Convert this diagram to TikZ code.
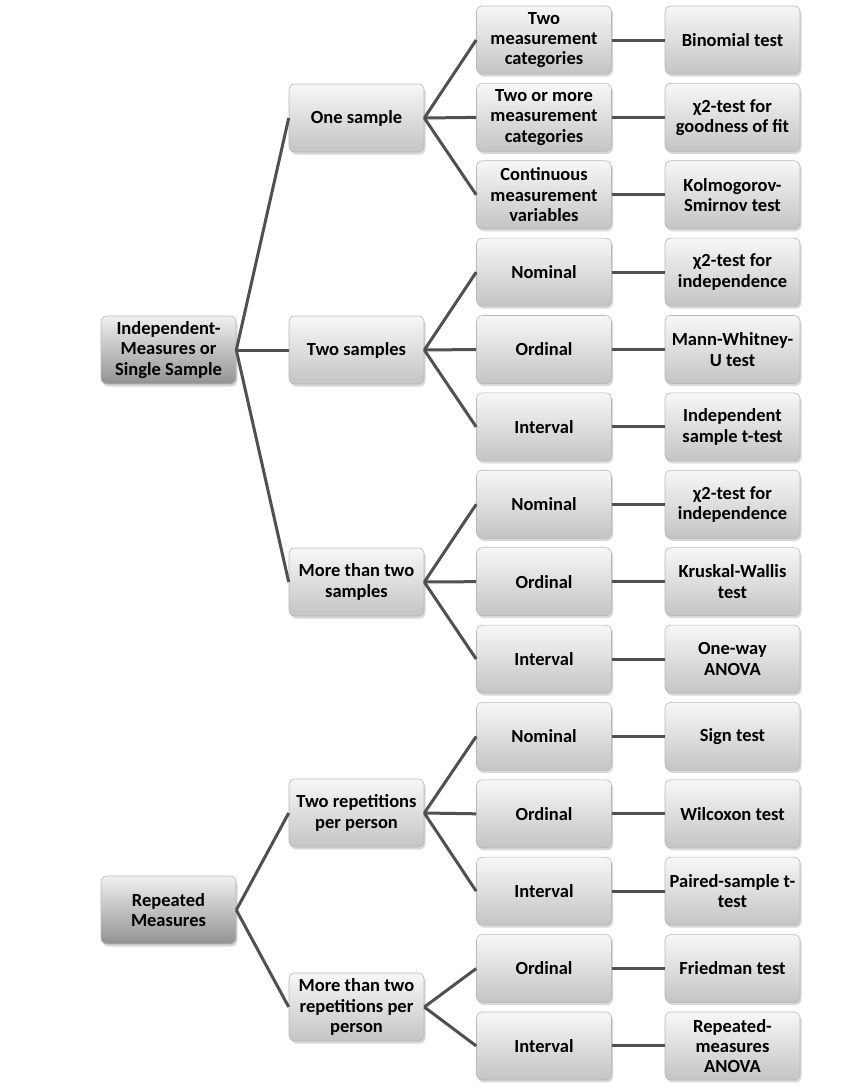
\documentclass[tikz,border=0pt]{standalone}
\usepackage{fontspec}
\setmainfont{Carlito}
\usetikzlibrary{shadows}
\definecolor{edgecol}{HTML}{505050}
\definecolor{boxtop}{HTML}{F7F7F7}
\definecolor{boxbot}{HTML}{C4C4C4}
\definecolor{darktop}{HTML}{F0F0F0}
\definecolor{darkbot}{HTML}{929292}
\definecolor{boxline}{HTML}{B8B8B8}
\tikzset{
  box/.style={rectangle, rounded corners=6pt, minimum width=135pt, minimum height=68pt,
    inner sep=1pt, align=center, draw=boxline, line width=0.6pt,
    top color=boxtop, bottom color=boxbot,
    font=\fontsize{18.5}{20.3}\selectfont\bfseries,
    drop shadow={shadow xshift=1.5pt, shadow yshift=-2.5pt, fill=black!30, opacity=0.5}},
  rootbox/.style={box, top color=darktop, bottom color=darkbot},
  link/.style={draw=edgecol, line width=3pt}
}
\begin{document}
\begin{tikzpicture}[x=1pt,y=-1pt]
\useasboundingbox (0,0) rectangle (849,1088);
\def\rs{77.38}
% Level 1
\node[rootbox] (ind) at (168.5,350) {Independent-\\Measures or\\Single Sample};
\node[rootbox] (rep) at (168.5,910) {Repeated\\Measures};
% Level 2
\node[box] (one) at (356.5,118) {One sample};
\node[box] (two) at (356.5,350) {Two samples};
\node[box] (more) at (356.5,582) {More than two\\samples};
\node[box] (tworep) at (356.5,813) {Two repetitions\\per person};
\node[box] (morerep) at (356.5,1007) {More than two\\repetitions per\\person};
% Level 3
\node[box] (c1) at (544,40+0*\rs) {Two\\measurement\\categories};
\node[box] (c2) at (544,40+1*\rs) {Two or more\\measurement\\categories};
\node[box] (c3) at (544,40+2*\rs) {Continuous\\measurement\\variables};
\node[box] (c4) at (544,40+3*\rs) {Nominal};
\node[box] (c5) at (544,40+4*\rs) {Ordinal};
\node[box] (c6) at (544,40+5*\rs) {Interval};
\node[box] (c7) at (544,40+6*\rs) {Nominal};
\node[box] (c8) at (544,40+7*\rs) {Ordinal};
\node[box] (c9) at (544,40+8*\rs) {Interval};
\node[box] (c10) at (544,40+9*\rs) {Nominal};
\node[box] (c11) at (544,40+10*\rs) {Ordinal};
\node[box] (c12) at (544,40+11*\rs) {Interval};
\node[box] (c13) at (544,40+12*\rs) {Ordinal};
\node[box] (c14) at (544,40+13*\rs) {Interval};
% Level 4
\node[box] (t1) at (732.5,40+0*\rs) {Binomial test};
\node[box] (t2) at (732.5,40+1*\rs) {χ2-test for\\goodness of fit};
\node[box] (t3) at (732.5,40+2*\rs) {Kolmogorov-\\Smirnov test};
\node[box] (t4) at (732.5,40+3*\rs) {χ2-test for\\independence};
\node[box] (t5) at (732.5,40+4*\rs) {Mann-Whitney-\\U test};
\node[box] (t6) at (732.5,40+5*\rs) {Independent\\sample t-test};
\node[box] (t7) at (732.5,40+6*\rs) {χ2-test for\\independence};
\node[box] (t8) at (732.5,40+7*\rs) {Kruskal-Wallis\\test};
\node[box] (t9) at (732.5,40+8*\rs) {One-way\\ANOVA};
\node[box] (t10) at (732.5,40+9*\rs) {Sign test};
\node[box] (t11) at (732.5,40+10*\rs) {Wilcoxon test};
\node[box] (t12) at (732.5,40+11*\rs) {Paired-sample t-\\test};
\node[box] (t13) at (732.5,40+12*\rs) {Friedman test};
\node[box] (t14) at (732.5,40+13*\rs) {Repeated-\\measures\\ANOVA};
% Edges
\foreach \b in {one,two,more} \draw[link] (ind.east) -- (\b.west);
\foreach \b in {tworep,morerep} \draw[link] (rep.east) -- (\b.west);
\foreach \b in {c1,c2,c3} \draw[link] (one.east) -- (\b.west);
\foreach \b in {c4,c5,c6} \draw[link] (two.east) -- (\b.west);
\foreach \b in {c7,c8,c9} \draw[link] (more.east) -- (\b.west);
\foreach \b in {c10,c11,c12} \draw[link] (tworep.east) -- (\b.west);
\foreach \b in {c13,c14} \draw[link] (morerep.east) -- (\b.west);
\foreach \i in {1,...,14} \draw[link] (c\i.east) -- (t\i.west);
\end{tikzpicture}
\end{document}
